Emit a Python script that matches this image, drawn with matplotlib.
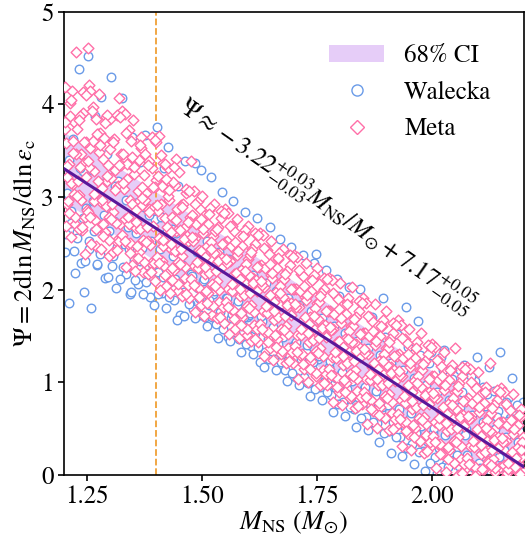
import numpy as np
import matplotlib
matplotlib.use('Agg')
from matplotlib import pyplot as plt
from matplotlib.patches import Patch
from matplotlib.lines import Line2D

plt.rcParams['font.family'] = 'STIXGeneral'
plt.rcParams['mathtext.fontset'] = 'stix'

# Meta EOS samples (three runs)
meta_x_a = [1.201,1.204,1.207,1.210,1.213,1.216,1.219,1.222,1.224,
            1.227,1.229,1.233,1.236,1.238,1.242,1.245,1.247,1.249,
            1.251,1.254,1.257,1.261,1.263,1.266,1.269,1.271,1.274,
            1.276,1.279,1.283,1.285,1.288,1.291,1.294,1.297,1.299,
            1.301,1.305,1.307,1.310,1.313,1.317,1.319,1.322,1.324,
            1.326,1.329,1.332,1.336,1.338,1.341,1.344,1.347,1.349,
            1.351,1.355,1.357,1.360,1.363,1.367,1.369,1.372,1.374,
            1.376,1.379,1.382,1.385,1.388,1.391,1.394,1.397,1.399,
            1.401,1.404,1.407,1.410,1.413,1.416,1.419,1.422,1.424,
            1.426,1.429,1.432,1.435,1.438,1.441,1.444,1.447,1.449,
            1.451,1.454,1.457,1.460,1.463,1.466,1.469,1.472,1.474,
            1.476,1.479,1.482,1.485,1.488,1.491,1.494,1.497,1.499,
            1.501,1.504,1.507,1.510,1.513,1.516,1.519,1.522,1.524,
            1.526,1.529,1.532,1.535,1.538,1.541,1.544,1.547,1.549,
            1.551,1.554,1.557,1.560,1.563,1.566,1.569,1.572,1.574,
            1.576,1.579,1.582,1.585,1.588,1.591,1.594,1.597,1.599,
            1.601,1.604,1.607,1.610,1.613,1.616,1.619,1.622,1.624,
            1.626,1.629,1.632,1.635,1.638,1.641,1.644,1.647,1.649,
            1.651,1.654,1.657,1.660,1.663,1.666,1.669,1.672,1.674,
            1.676,1.679,1.682,1.685,1.688,1.691,1.694,1.697,1.699,
            1.701,1.704,1.707,1.710,1.713,1.716,1.719,1.722,1.724,
            1.726,1.729,1.732,1.735,1.738,1.741,1.744,1.747,1.749,
            1.751,1.754,1.757,1.760,1.763,1.766,1.769,1.772,1.774,
            1.776,1.779,1.782,1.785,1.788,1.791,1.794,1.797,1.799,
            1.801,1.804,1.807,1.810,1.813,1.816,1.819,1.822,1.824,
            1.826,1.829,1.832,1.835,1.838,1.841,1.844,1.847,1.849,
            1.851,1.854,1.857,1.860,1.863,1.866,1.869,1.872,1.874,
            1.876,1.879,1.882,1.885,1.888,1.891,1.894,1.897,1.899,
            1.901,1.904,1.907,1.910,1.913,1.916,1.919,1.922,1.924,
            1.926,1.929,1.932,1.935,1.938,1.941,1.944,1.947,1.949,
            1.951,1.954,1.957,1.960,1.963,1.966,1.969,1.972,1.974,
            1.976,1.979,1.982,1.985,1.988,1.991,1.994,1.997,1.999,
            2.001,2.004,2.007,2.010,2.013,2.016,2.019,2.022,2.024,
            2.026,2.029,2.032,2.035,2.038,2.041,2.044,2.047,2.049,
            2.051,2.054,2.057,2.060,2.063,2.066,2.069,2.072,2.074,
            2.076,2.079,2.082,2.085,2.088,2.091,2.094,2.097,2.099,
            2.101,2.104,2.107,2.110,2.113,2.116,2.119,2.122,2.124,
            2.126,2.129,2.132,2.135,2.138,2.141,2.144,2.147,2.149,
            2.151,2.154,2.157,2.160,2.163,2.166,2.169,2.172,2.174,
            2.176,2.179,2.182,2.185,2.188,2.191,2.194,2.197,2.199]
meta_y_a = [4.19,3.58,2.93,3.36,4.02,2.57,3.14,3.81,2.71,
            4.57,3.74,3.02,3.47,2.64,3.91,2.38,3.22,2.86,
            4.61,4.21,3.53,2.79,3.97,3.28,2.47,3.06,3.68,
            4.11,3.69,2.94,3.41,2.62,3.86,3.17,2.36,3.52,
            3.84,3.61,2.84,3.29,2.53,3.11,4.07,2.71,3.46,
            3.93,3.47,2.76,3.19,2.49,3.72,2.97,2.27,3.33,
            3.83,3.36,2.67,3.07,2.41,3.53,2.91,2.19,3.24,
            3.46,3.04,2.53,2.87,2.29,3.31,2.69,2.09,3.18,
            3.59,3.23,2.56,2.93,2.31,3.37,2.77,2.04,3.08,
            3.31,2.97,2.44,2.79,2.21,3.13,2.63,1.99,2.87,
            3.27,2.91,2.36,2.67,2.13,3.04,2.53,1.91,2.78,
            3.39,2.81,2.26,2.56,2.03,2.96,2.43,1.83,2.68,
            3.01,2.73,2.17,2.47,1.96,2.86,2.34,1.73,2.58,
            2.93,2.63,2.09,2.39,1.87,2.77,2.24,1.64,2.51,
            2.87,2.53,2.01,2.31,1.79,2.69,2.17,1.57,2.42,
            2.76,2.44,1.93,2.21,1.71,2.59,2.07,1.51,2.33,
            2.69,2.37,1.83,2.13,1.62,2.49,1.99,1.43,2.26,
            2.61,2.27,1.77,2.03,1.54,2.43,1.91,1.37,2.16,
            2.53,2.19,1.67,1.97,1.47,2.33,1.83,1.31,2.09,
            2.44,2.11,1.61,1.87,1.37,2.27,1.73,1.21,2.01,
            2.37,2.01,1.51,1.81,1.29,2.17,1.67,1.14,1.92,
            2.29,1.93,1.43,1.71,1.23,2.11,1.57,1.07,1.86,
            2.23,1.87,1.37,1.63,1.13,2.01,1.49,0.97,1.77,
            2.13,1.77,1.27,1.57,1.07,1.93,1.43,0.89,1.69,
            2.07,1.71,1.19,1.47,0.99,1.87,1.33,0.83,1.61,
            2.03,1.61,1.13,1.41,0.91,1.77,1.27,0.77,1.53,
            1.91,1.53,1.03,1.31,0.83,1.71,1.17,0.69,1.46,
            1.84,1.47,0.97,1.23,0.73,1.61,1.09,0.61,1.37,
            1.77,1.37,0.87,1.17,0.67,1.53,1.01,0.53,1.29,
            1.67,1.31,0.81,1.07,0.57,1.47,0.93,0.44,1.21,
            1.57,1.21,0.71,1.01,0.51,1.37,0.87,0.37,1.13,
            1.53,1.13,0.63,0.91,0.43,1.31,0.77,0.31,1.07,
            1.41,1.07,0.57,0.83,0.33,1.23,0.69,0.23,0.97,
            1.33,0.97,0.47,0.77,0.27,1.13,0.61,0.13,0.89,
            1.37,0.91,0.41,0.67,0.17,1.07,0.53,0.06,0.81,
            1.17,0.83,0.31,0.61,0.11,0.97,0.45,0.03,0.73,
            1.11,0.73,0.23,0.53,0.06,0.91,0.37,0.15,0.64,
            1.21,0.67,0.17,0.43,0.03,0.81,0.29,0.09,0.57,
            0.94,0.57,0.11,0.37,0.02,0.73,0.21,0.07,0.49,
            0.87,0.49,0.05,0.29,0.13,0.63,0.19,0.41,0.03]

meta_x_b = [1.2235,1.2205,1.2180,1.2155,1.2125,1.2095,1.2070,1.2045,1.2015,
            1.2485,1.2455,1.2430,1.2405,1.2375,1.2345,1.2320,1.2295,1.2265,
            1.2735,1.2705,1.2680,1.2655,1.2625,1.2595,1.2570,1.2545,1.2515,
            1.2985,1.2955,1.2930,1.2905,1.2875,1.2845,1.2820,1.2795,1.2765,
            1.3235,1.3205,1.3180,1.3155,1.3125,1.3095,1.3070,1.3045,1.3015,
            1.3485,1.3455,1.3430,1.3405,1.3375,1.3345,1.3320,1.3295,1.3265,
            1.3735,1.3705,1.3680,1.3655,1.3625,1.3595,1.3570,1.3545,1.3515,
            1.3985,1.3955,1.3930,1.3905,1.3875,1.3845,1.3820,1.3795,1.3765,
            1.4235,1.4205,1.4180,1.4155,1.4125,1.4095,1.4070,1.4045,1.4015,
            1.4485,1.4455,1.4430,1.4405,1.4375,1.4345,1.4320,1.4295,1.4265,
            1.4735,1.4705,1.4680,1.4655,1.4625,1.4595,1.4570,1.4545,1.4515,
            1.4985,1.4955,1.4930,1.4905,1.4875,1.4845,1.4820,1.4795,1.4765,
            1.5235,1.5205,1.5180,1.5155,1.5125,1.5095,1.5070,1.5045,1.5015,
            1.5485,1.5455,1.5430,1.5405,1.5375,1.5345,1.5320,1.5295,1.5265,
            1.5735,1.5705,1.5680,1.5655,1.5625,1.5595,1.5570,1.5545,1.5515,
            1.5985,1.5955,1.5930,1.5905,1.5875,1.5845,1.5820,1.5795,1.5765,
            1.6235,1.6205,1.6180,1.6155,1.6125,1.6095,1.6070,1.6045,1.6015,
            1.6485,1.6455,1.6430,1.6405,1.6375,1.6345,1.6320,1.6295,1.6265,
            1.6735,1.6705,1.6680,1.6655,1.6625,1.6595,1.6570,1.6545,1.6515,
            1.6985,1.6955,1.6930,1.6905,1.6875,1.6845,1.6820,1.6795,1.6765,
            1.7235,1.7205,1.7180,1.7155,1.7125,1.7095,1.7070,1.7045,1.7015,
            1.7485,1.7455,1.7430,1.7405,1.7375,1.7345,1.7320,1.7295,1.7265,
            1.7735,1.7705,1.7680,1.7655,1.7625,1.7595,1.7570,1.7545,1.7515,
            1.7985,1.7955,1.7930,1.7905,1.7875,1.7845,1.7820,1.7795,1.7765,
            1.8235,1.8205,1.8180,1.8155,1.8125,1.8095,1.8070,1.8045,1.8015,
            1.8485,1.8455,1.8430,1.8405,1.8375,1.8345,1.8320,1.8295,1.8265,
            1.8735,1.8705,1.8680,1.8655,1.8625,1.8595,1.8570,1.8545,1.8515,
            1.8985,1.8955,1.8930,1.8905,1.8875,1.8845,1.8820,1.8795,1.8765,
            1.9235,1.9205,1.9180,1.9155,1.9125,1.9095,1.9070,1.9045,1.9015,
            1.9485,1.9455,1.9430,1.9405,1.9375,1.9345,1.9320,1.9295,1.9265,
            1.9735,1.9705,1.9680,1.9655,1.9625,1.9595,1.9570,1.9545,1.9515,
            1.9985,1.9955,1.9930,1.9905,1.9875,1.9845,1.9820,1.9795,1.9765,
            2.0235,2.0205,2.0180,2.0155,2.0125,2.0095,2.0070,2.0045,2.0015,
            2.0485,2.0455,2.0430,2.0405,2.0375,2.0345,2.0320,2.0295,2.0265,
            2.0735,2.0705,2.0680,2.0655,2.0625,2.0595,2.0570,2.0545,2.0515,
            2.0985,2.0955,2.0930,2.0905,2.0875,2.0845,2.0820,2.0795,2.0765,
            2.1235,2.1205,2.1180,2.1155,2.1125,2.1095,2.1070,2.1045,2.1015,
            2.1485,2.1455,2.1430,2.1405,2.1375,2.1345,2.1320,2.1295,2.1265,
            2.1735,2.1705,2.1680,2.1655,2.1625,2.1595,2.1570,2.1545,2.1515,
            2.1985,2.1955,2.1930,2.1905,2.1875,2.1845,2.1820,2.1795,2.1765]
meta_y_b = [2.79,3.60,4.14,3.15,3.88,2.96,3.34,2.69,3.73,
            3.59,2.78,3.37,4.13,2.97,3.88,2.66,3.17,3.46,
            3.17,3.84,2.75,2.96,3.60,2.49,4.14,3.33,2.84,
            2.54,3.35,3.89,2.90,3.64,2.71,3.10,2.44,3.49,
            3.35,2.53,3.12,3.89,2.72,3.63,2.41,2.92,3.21,
            2.92,3.60,2.50,2.71,3.36,2.24,3.90,3.09,2.59,
            2.30,3.11,3.65,2.66,3.40,2.47,2.86,2.20,3.25,
            3.11,2.29,2.88,3.65,2.48,3.39,2.17,2.68,2.97,
            2.68,3.36,2.26,2.47,3.12,2.00,3.66,2.85,2.35,
            2.06,2.87,3.41,2.42,3.16,2.23,2.62,1.96,3.01,
            2.73,2.05,2.58,3.09,2.24,2.92,1.93,2.44,2.64,
            2.42,2.87,2.02,2.23,2.71,1.76,3.07,2.53,2.11,
            1.82,2.52,2.88,2.18,2.71,1.99,2.35,1.72,2.61,
            2.49,1.81,2.34,2.85,2.00,2.68,1.69,2.20,2.40,
            2.18,2.63,1.78,1.99,2.47,1.52,2.83,2.29,1.87,
            1.58,2.28,2.64,1.94,2.47,1.75,2.11,1.48,2.37,
            2.25,1.57,2.10,2.61,1.76,2.44,1.45,1.96,2.16,
            1.94,2.39,1.54,1.75,2.23,1.28,2.59,2.05,1.63,
            1.34,2.04,2.40,1.70,2.23,1.51,1.87,1.24,2.13,
            2.01,1.33,1.86,2.37,1.52,2.20,1.21,1.72,1.92,
            1.70,2.15,1.30,1.51,1.99,1.04,2.35,1.81,1.39,
            1.10,1.80,2.16,1.46,1.99,1.27,1.63,1.00,1.89,
            1.77,1.09,1.62,2.13,1.28,1.96,0.97,1.48,1.68,
            1.45,1.90,1.05,1.26,1.74,0.79,2.10,1.56,1.14,
            0.85,1.55,1.91,1.21,1.74,1.02,1.38,0.75,1.64,
            1.52,0.84,1.37,1.88,1.03,1.71,0.72,1.23,1.43,
            1.21,1.66,0.81,1.02,1.50,0.55,1.86,1.32,0.90,
            0.61,1.31,1.67,0.97,1.50,0.78,1.14,0.51,1.40,
            1.28,0.60,1.13,1.64,0.79,1.47,0.48,0.99,1.19,
            0.97,1.42,0.57,0.78,1.26,0.31,1.62,1.08,0.66,
            0.37,1.07,1.43,0.73,1.26,0.54,0.90,0.27,1.16,
            1.04,0.36,0.89,1.40,0.55,1.23,0.24,0.75,0.95,
            0.73,1.18,0.33,0.54,1.02,0.07,1.38,0.84,0.42,
            0.13,0.83,1.19,0.49,1.02,0.30,0.66,0.03,0.92,
            0.80,0.12,0.65,1.16,0.31,0.99,0.00,0.51,0.71,
            0.49,0.94,0.09,0.30,0.78,-0.17,1.14,0.60,0.18,
            -0.11,0.59,0.95,0.25,0.78,0.06,0.42,-0.21,0.68,
            0.56,-0.12,0.41,0.92,0.07,0.75,-0.24,0.27,0.47,
            0.25,0.70,-0.15,0.06,0.54,-0.41,0.90,0.36,-0.06,
            -0.35,0.35,0.71,0.01,0.54,-0.18,0.18,-0.45,0.44]

meta_x_c = [1.2025,1.2065,1.2105,1.2145,1.2185,1.2225,
            1.2275,1.2315,1.2355,1.2395,1.2435,1.2475,
            1.2525,1.2565,1.2605,1.2645,1.2685,1.2725,
            1.2775,1.2815,1.2855,1.2895,1.2935,1.2975,
            1.3025,1.3065,1.3105,1.3145,1.3185,1.3225,
            1.3275,1.3315,1.3355,1.3395,1.3435,1.3475,
            1.3525,1.3565,1.3605,1.3645,1.3685,1.3725,
            1.3775,1.3815,1.3855,1.3895,1.3935,1.3975,
            1.4025,1.4065,1.4105,1.4145,1.4185,1.4225,
            1.4275,1.4315,1.4355,1.4395,1.4435,1.4475,
            1.4525,1.4565,1.4605,1.4645,1.4685,1.4725,
            1.4775,1.4815,1.4855,1.4895,1.4935,1.4975,
            1.5025,1.5065,1.5105,1.5145,1.5185,1.5225,
            1.5275,1.5315,1.5355,1.5395,1.5435,1.5475,
            1.5525,1.5565,1.5605,1.5645,1.5685,1.5725,
            1.5775,1.5815,1.5855,1.5895,1.5935,1.5975,
            1.6025,1.6065,1.6105,1.6145,1.6185,1.6225,
            1.6275,1.6315,1.6355,1.6395,1.6435,1.6475,
            1.6525,1.6565,1.6605,1.6645,1.6685,1.6725,
            1.6775,1.6815,1.6855,1.6895,1.6935,1.6975,
            1.7025,1.7065,1.7105,1.7145,1.7185,1.7225,
            1.7275,1.7315,1.7355,1.7395,1.7435,1.7475,
            1.7525,1.7565,1.7605,1.7645,1.7685,1.7725,
            1.7775,1.7815,1.7855,1.7895,1.7935,1.7975,
            1.8025,1.8065,1.8105,1.8145,1.8185,1.8225,
            1.8275,1.8315,1.8355,1.8395,1.8435,1.8475,
            1.8525,1.8565,1.8605,1.8645,1.8685,1.8725,
            1.8775,1.8815,1.8855,1.8895,1.8935,1.8975,
            1.9025,1.9065,1.9105,1.9145,1.9185,1.9225,
            1.9275,1.9315,1.9355,1.9395,1.9435,1.9475,
            1.9525,1.9565,1.9605,1.9645,1.9685,1.9725,
            1.9775,1.9815,1.9855,1.9895,1.9935,1.9975,
            2.0025,2.0065,2.0105,2.0145,2.0185,2.0225,
            2.0275,2.0315,2.0355,2.0395,2.0435,2.0475,
            2.0525,2.0565,2.0605,2.0645,2.0685,2.0725,
            2.0775,2.0815,2.0855,2.0895,2.0935,2.0975,
            2.1025,2.1065,2.1105,2.1145,2.1185,2.1225,
            2.1275,2.1315,2.1355,2.1395,2.1435,2.1475,
            2.1525,2.1565,2.1605,2.1645,2.1685,2.1725,
            2.1775,2.1815,2.1855,2.1895,2.1935,2.1975]
meta_y_c = [3.81,3.22,2.83,4.05,3.48,3.03,
            3.01,3.83,3.32,2.68,3.59,4.10,
            3.39,2.78,3.93,3.03,2.65,3.68,
            3.56,2.97,2.58,3.80,3.23,2.78,
            2.76,3.59,3.08,2.43,3.35,3.86,
            3.15,2.53,3.69,2.78,2.40,3.43,
            3.32,2.73,2.34,3.56,2.99,2.54,
            2.52,3.35,2.84,2.19,3.11,3.62,
            2.91,2.29,3.45,2.54,2.16,3.19,
            3.08,2.49,2.10,3.32,2.75,2.30,
            2.28,2.89,2.55,1.95,2.73,3.07,
            2.57,2.05,2.93,2.30,1.92,2.76,
            2.66,2.25,1.86,2.82,2.44,2.06,
            2.04,2.65,2.31,1.71,2.49,2.83,
            2.33,1.81,2.69,2.06,1.68,2.52,
            2.42,2.01,1.62,2.58,2.20,1.82,
            1.80,2.41,2.07,1.47,2.25,2.59,
            2.09,1.57,2.45,1.82,1.44,2.28,
            2.18,1.77,1.38,2.34,1.96,1.58,
            1.56,2.17,1.83,1.23,2.01,2.35,
            1.85,1.33,2.21,1.58,1.20,2.04,
            1.94,1.53,1.14,2.10,1.72,1.34,
            1.32,1.93,1.59,0.99,1.77,2.11,
            1.60,1.08,1.96,1.33,0.95,1.79,
            1.69,1.28,0.89,1.85,1.47,1.09,
            1.07,1.68,1.34,0.74,1.52,1.86,
            1.36,0.84,1.72,1.09,0.71,1.55,
            1.45,1.04,0.65,1.61,1.23,0.85,
            0.83,1.44,1.10,0.50,1.28,1.62,
            1.12,0.60,1.48,0.85,0.47,1.31,
            1.21,0.80,0.41,1.37,0.99,0.61,
            0.59,1.20,0.86,0.26,1.04,1.38,
            0.88,0.36,1.24,0.61,0.23,1.07,
            0.97,0.56,0.17,1.13,0.75,0.37,
            0.35,0.96,0.62,0.02,0.80,1.14,
            0.64,0.12,1.00,0.37,-0.01,0.83,
            0.73,0.32,-0.07,0.89,0.51,0.13,
            0.11,0.72,0.38,-0.22,0.56,0.90,
            0.40,-0.12,0.76,0.13,-0.25,0.59,
            0.49,0.08,-0.31,0.65,0.27,-0.11]

# Walecka EOS samples (two runs)
walecka_x_a = [1.202,1.206,1.211,1.215,1.219,1.223,
               1.228,1.232,1.237,1.241,1.244,1.248,
               1.251,1.255,1.258,1.263,1.267,1.272,
               1.277,1.281,1.286,1.290,1.293,1.298,
               1.302,1.306,1.309,1.314,1.318,1.323,
               1.327,1.331,1.335,1.339,1.343,1.348,
               1.352,1.356,1.361,1.365,1.369,1.373,
               1.377,1.381,1.386,1.390,1.394,1.398,
               1.402,1.405,1.409,1.414,1.418,1.423,
               1.427,1.431,1.436,1.440,1.443,1.448,
               1.452,1.456,1.460,1.464,1.468,1.473,
               1.477,1.481,1.485,1.490,1.494,1.498,
               1.502,1.506,1.511,1.515,1.519,1.523,
               1.527,1.531,1.536,1.540,1.544,1.548,
               1.552,1.556,1.559,1.564,1.568,1.573,
               1.577,1.581,1.585,1.589,1.593,1.598,
               1.602,1.606,1.611,1.615,1.619,1.623,
               1.627,1.631,1.636,1.640,1.644,1.648,
               1.652,1.656,1.661,1.665,1.669,1.673,
               1.677,1.681,1.686,1.690,1.694,1.698,
               1.702,1.706,1.711,1.715,1.719,1.723,
               1.727,1.731,1.736,1.740,1.744,1.748,
               1.752,1.756,1.761,1.765,1.769,1.773,
               1.777,1.781,1.786,1.790,1.794,1.798,
               1.802,1.806,1.811,1.815,1.819,1.823,
               1.827,1.831,1.836,1.840,1.844,1.848,
               1.852,1.856,1.861,1.865,1.869,1.873,
               1.877,1.881,1.886,1.890,1.894,1.898,
               1.902,1.906,1.911,1.915,1.919,1.923,
               1.927,1.931,1.936,1.940,1.944,1.948,
               1.952,1.956,1.961,1.965,1.969,1.973,
               1.977,1.981,1.986,1.990,1.994,1.998,
               2.002,2.006,2.011,2.015,2.019,2.023,
               2.027,2.031,2.036,2.040,2.044,2.048,
               2.052,2.056,2.061,2.065,2.069,2.073,
               2.077,2.081,2.086,2.090,2.094,2.098,
               2.102,2.106,2.111,2.115,2.119,2.123,
               2.127,2.131,2.136,2.140,2.144,2.148,
               2.152,2.156,2.161,2.165,2.169,2.173,
               2.177,2.181,2.186,2.190,2.194,2.198]
walecka_y_a = [2.41,3.04,1.86,2.72,3.63,2.18,
               2.62,4.38,2.29,3.28,1.97,2.88,
               4.52,2.53,1.80,2.96,3.88,2.27,
               2.44,4.08,2.81,2.13,3.46,2.63,
               4.30,2.36,2.74,2.02,3.17,2.55,
               4.07,2.49,2.17,2.68,1.95,3.65,
               2.32,2.61,2.06,3.38,2.45,2.89,
               3.67,2.27,1.92,2.53,2.11,2.76,
               3.76,2.19,2.44,1.96,3.31,2.63,
               3.54,2.08,2.36,1.89,2.61,3.12,
               1.73,2.27,1.98,3.39,2.51,1.84,
               2.17,1.79,3.37,2.41,1.91,3.29,
               2.09,1.71,2.53,1.83,3.22,1.95,
               1.99,1.63,2.41,1.76,3.06,2.28,
               1.91,1.49,2.33,1.69,2.96,1.78,
               1.83,1.47,2.21,1.61,2.84,1.71,
               1.73,1.39,2.16,1.53,2.77,1.62,
               1.22,1.66,1.33,2.07,1.47,2.68,
               1.57,1.25,1.99,1.39,2.55,1.31,
               1.49,1.13,1.91,1.31,2.46,1.07,
               1.41,1.05,1.83,1.23,2.37,1.01,
               1.33,0.99,1.77,1.15,2.29,2.38,
               1.25,0.95,1.69,1.07,2.21,0.91,
               1.17,0.86,1.61,0.99,2.11,1.93,
               1.09,0.79,1.53,0.91,2.03,0.83,
               1.01,0.71,1.45,0.84,2.01,1.86,
               0.93,0.63,1.37,0.77,1.71,1.53,
               0.85,0.56,1.29,0.69,1.91,1.49,
               0.77,0.47,1.21,0.61,1.63,1.52,
               0.69,0.41,1.13,0.53,1.81,1.38,
               0.61,0.33,1.05,0.45,1.66,1.29,
               0.53,0.26,0.97,0.37,1.21,1.33,
               0.45,0.19,0.89,0.29,1.27,1.13,
               1.35,0.12,0.81,0.22,1.03,0.37,
               0.29,0.06,0.73,0.15,1.19,0.49,
               0.21,0.03,0.65,0.09,1.01,1.27,
               0.13,0.41,0.57,0.05,0.87,1.17,
               0.07,0.33,0.49,0.91,0.69,1.33,
               0.04,0.27,0.41,0.83,0.61,1.05,
               0.02,0.19,0.35,0.71,0.52,0.79]

walecka_x_b = [1.221,1.216,1.210,1.204, 1.246,1.241,1.235,1.229,
               1.271,1.266,1.260,1.254, 1.296,1.291,1.285,1.279,
               1.321,1.316,1.310,1.304, 1.346,1.341,1.335,1.329,
               1.371,1.366,1.360,1.354, 1.396,1.391,1.385,1.379,
               1.421,1.416,1.410,1.404, 1.446,1.441,1.435,1.429,
               1.471,1.466,1.460,1.454, 1.496,1.491,1.485,1.479,
               1.521,1.516,1.510,1.504, 1.546,1.541,1.535,1.529,
               1.571,1.566,1.560,1.554, 1.596,1.591,1.585,1.579,
               1.621,1.616,1.610,1.604, 1.646,1.641,1.635,1.629,
               1.671,1.666,1.660,1.654, 1.696,1.691,1.685,1.679,
               1.721,1.716,1.710,1.704, 1.746,1.741,1.735,1.729,
               1.771,1.766,1.760,1.754, 1.796,1.791,1.785,1.779,
               1.821,1.816,1.810,1.804, 1.846,1.841,1.835,1.829,
               1.871,1.866,1.860,1.854, 1.896,1.891,1.885,1.879,
               1.921,1.916,1.910,1.904, 1.946,1.941,1.935,1.929,
               1.971,1.966,1.960,1.954, 1.996,1.991,1.985,1.979,
               2.021,2.016,2.010,2.004, 2.046,2.041,2.035,2.029,
               2.071,2.066,2.060,2.054, 2.096,2.091,2.085,2.079,
               2.121,2.116,2.110,2.104, 2.146,2.141,2.135,2.129,
               2.171,2.166,2.160,2.154, 2.196,2.191,2.185,2.179]
walecka_y_b = [2.42,2.85,3.40,2.60, 2.31,2.77,3.31,2.56,
               2.28,2.63,3.29,2.44, 2.14,2.59,3.15,2.39,
               2.11,2.46,3.12,2.26, 1.98,2.44,2.97,2.24,
               1.95,2.31,2.95,2.10, 1.83,2.28,2.81,2.08,
               1.80,2.14,2.79,1.95, 1.67,2.12,2.66,1.92,
               1.84,2.10,1.72,2.28, 1.73,2.02,1.69,2.15,
               1.70,1.89,1.61,2.12, 1.58,1.86,1.48,2.04,
               1.54,1.74,1.45,1.91, 1.41,1.70,1.33,1.88,
               1.38,1.57,1.30,1.75, 1.25,1.54,1.16,1.72,
               1.22,1.41,1.13,1.60, 1.10,1.38,1.01,1.56,
               1.06,1.25,0.97,1.44, 0.93,1.22,0.85,1.40,
               0.90,1.09,0.81,1.28, 0.77,1.05,0.68,1.23,
               0.73,0.93,0.64,1.11, 0.61,0.89,0.52,1.07,
               0.57,0.77,0.48,0.95, 0.45,0.73,0.36,0.91,
               0.41,0.57,0.24,0.75, 0.29,0.53,0.20,0.71,
               0.25,0.45,0.12,0.67, 0.13,0.41,0.04,0.59,
               0.09,0.29,0.02,0.51, 0.03,0.25,0.08,0.43,
               0.43,0.90,1.13,0.21, 0.35,0.78,1.07,0.15,
               0.27,0.74,0.95,0.07, 0.19,0.62,0.91,0.03,
               0.11,0.58,0.79,0.09, 0.03,0.46,0.75,0.21]

# fitted relation and its 68% band
fit_x = [1.2, 2.2]
fit_y = [3.306, 0.086]
band_lo = [2.95, -0.27]
band_hi = [3.70, 0.48]
m_canonical = 1.4

fig = plt.figure(figsize=(5.25, 5.39), dpi=100)
ax = fig.add_axes([0.122, 0.119, 0.876, 0.859])

ax.fill_between(fit_x, band_lo, band_hi, color='#e6cdf8', lw=0, zorder=1)
ax.axvline(m_canonical, color='#f0a035', ls='--', lw=1.3, zorder=1.5)
ax.scatter(walecka_x_a + walecka_x_b, walecka_y_a + walecka_y_b, s=38, marker='o',
           facecolors='white', edgecolors='#6a9be8', linewidths=1.0, zorder=2)
ax.scatter(meta_x_a + meta_x_b + meta_x_c, meta_y_a + meta_y_b + meta_y_c, s=30, marker='D',
           facecolors='white', edgecolors='#ff6fa8', linewidths=1.0, zorder=3)
ax.plot(fit_x, fit_y, color='#5a189a', lw=2.2, zorder=4)

ax.set_xlim(1.2, 2.2)
ax.set_ylim(0, 5)
ax.set_xticks([1.25, 1.5, 1.75, 2.0])
ax.set_xticklabels(['1.25', '1.50', '1.75', '2.00'])
ax.set_yticks([0, 1, 2, 3, 4, 5])
ax.tick_params(labelsize=18, direction='out', length=4, width=1.2)
for sp in ax.spines.values():
    sp.set_linewidth(1.2)

ax.set_xlabel(r'$M_{\rm NS}\ (M_{\odot})$', fontsize=19, labelpad=0)
ax.set_ylabel(r'$\Psi = 2{\rm d}\ln M_{\rm NS}/{\rm d}\ln \varepsilon_{\rm c}$', fontsize=19, labelpad=2)

ax.text(1.446, 3.93,
        r'$\Psi \approx -3.22^{+0.03}_{-0.03}M_{\rm NS}/M_{\odot} + 7.17^{+0.05}_{-0.05}$',
        fontsize=18, rotation=-35, rotation_mode='anchor', ha='left', va='baseline', zorder=5)

handles = [Patch(facecolor='#e6cdf8', edgecolor='none'),
           Line2D([], [], ls='none', marker='o', mfc='white', mec='#6a9be8', ms=8),
           Line2D([], [], ls='none', marker='D', mfc='white', mec='#ff6fa8', ms=7)]
ax.legend(handles, ['68% CI', 'Walecka', 'Meta'], loc='upper right', frameon=False,
          fontsize=18, handlelength=2.2, borderaxespad=0.9, labelspacing=0.5)

fig.savefig('out.png', dpi=100)
